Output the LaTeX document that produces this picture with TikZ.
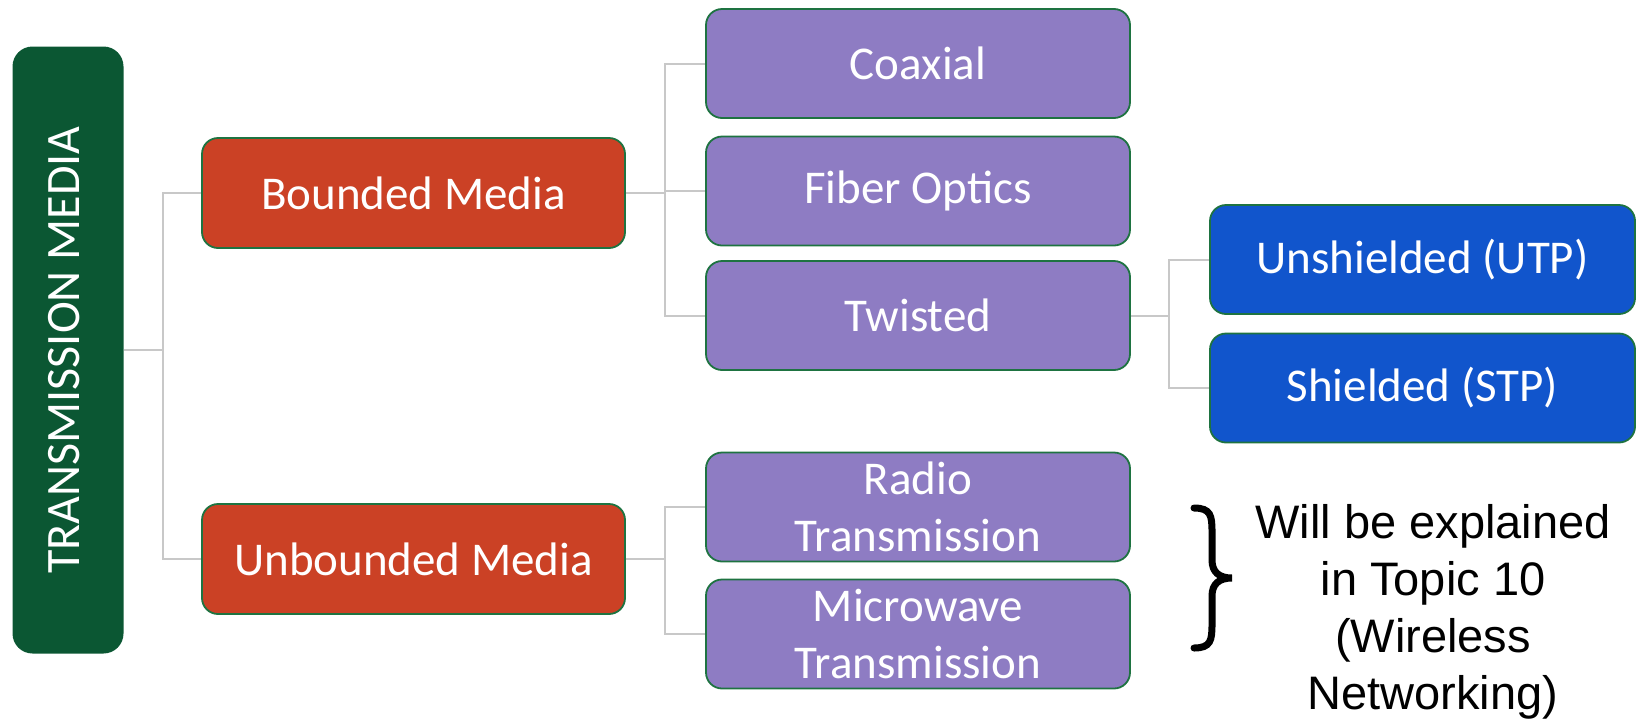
\documentclass[tikz,border=0pt]{standalone}
\usepackage{fontspec}
\setmainfont{Carlito}
\newfontfamily\arialfont{Liberation Sans}
\definecolor{rootgreen}{RGB}{11,87,51}
\definecolor{boxred}{RGB}{203,65,37}
\definecolor{boxpurple}{RGB}{142,124,195}
\definecolor{boxblue}{RGB}{17,85,204}
\definecolor{edgegreen}{RGB}{30,115,65}
\definecolor{conngray}{RGB}{200,200,200}
\tikzset{
  basebox/.style={draw=edgegreen, line width=1.8pt, rounded corners=16pt, text=white, align=center,
    inner sep=0pt, font=\fontsize{47}{57}\selectfont},
  lvlone/.style={basebox, fill=boxred, minimum width=423pt, minimum height=110pt},
  lvltwo/.style={basebox, fill=boxpurple, minimum width=424pt, minimum height=109pt},
  lvlthree/.style={basebox, fill=boxblue, minimum width=425pt, minimum height=109pt},
  rootbox/.style={fill=rootgreen, rounded corners=20pt, minimum width=111pt, minimum height=607pt, inner sep=0pt},
  conn/.style={draw=conngray, line width=2pt},
}
\begin{document}
\begin{tikzpicture}[x=1pt,y=-1pt]
\useasboundingbox (0,0) rectangle (1640,721);
\node[rootbox] (root) at (68,350) {};
\node[text=white, rotate=90, font=\fontsize{48}{57}\selectfont, inner sep=0pt] (roottext) at (64,350) {TRANSMISSION MEDIA};

\node[lvlone] (bounded) at (413.5,193) {Bounded Media};
\node[lvlone] (unbounded) at (413.5,559) {Unbounded Media};

\node[lvltwo] (coax) at (918,63.5) {Coaxial};
\node[lvltwo] (fiber) at (918,191) {Fiber Optics};
\node[lvltwo] (twisted) at (918,315.5) {Twisted};
\node[lvltwo] (radio) at (918,507) {Radio\\Transmission};
\node[lvltwo] (micro) at (918,634) {Microwave\\Transmission};

\node[lvlthree] (utp) at (1422.5,259.5) {Unshielded (UTP)};
\node[lvlthree] (stp) at (1422.5,388) {Shielded (STP)};

\coordinate (j1) at (163,350);
\coordinate (j2) at (665,193);
\coordinate (j3) at (665,559);
\coordinate (j4) at (1169,315.5);

\draw[conn] (root.east) -- (j1);
\draw[conn] (j1) |- (bounded.west);
\draw[conn] (j1) |- (unbounded.west);
\draw[conn] (bounded.east) -- (j2);
\draw[conn] (j2) |- (coax.west);
\draw[conn] (j2) |- (fiber.west);
\draw[conn] (j2) |- (twisted.west);
\draw[conn] (unbounded.east) -- (j3);
\draw[conn] (j3) |- (radio.west);
\draw[conn] (j3) |- (micro.west);
\draw[conn] (twisted.east) -- (j4);
\draw[conn] (j4) |- (utp.west);
\draw[conn] (j4) |- (stp.west);

\draw[line width=7pt, black, line cap=round]
  (1194,508) .. controls (1211,508) and (1212,516) .. (1212,532)
  -- (1212,560) .. controls (1212,572) and (1219,578) .. (1232,578)
  .. controls (1219,578) and (1212,584) .. (1212,596)
  -- (1212,624) .. controls (1212,640) and (1211,648) .. (1194,648);

\node[font=\arialfont\fontsize{47}{57}\selectfont, align=center, inner sep=0pt] (note) at (1433,612)
  {Will be explained\\in Topic 10\\(Wireless\\Networking)};
\end{tikzpicture}
\end{document}
